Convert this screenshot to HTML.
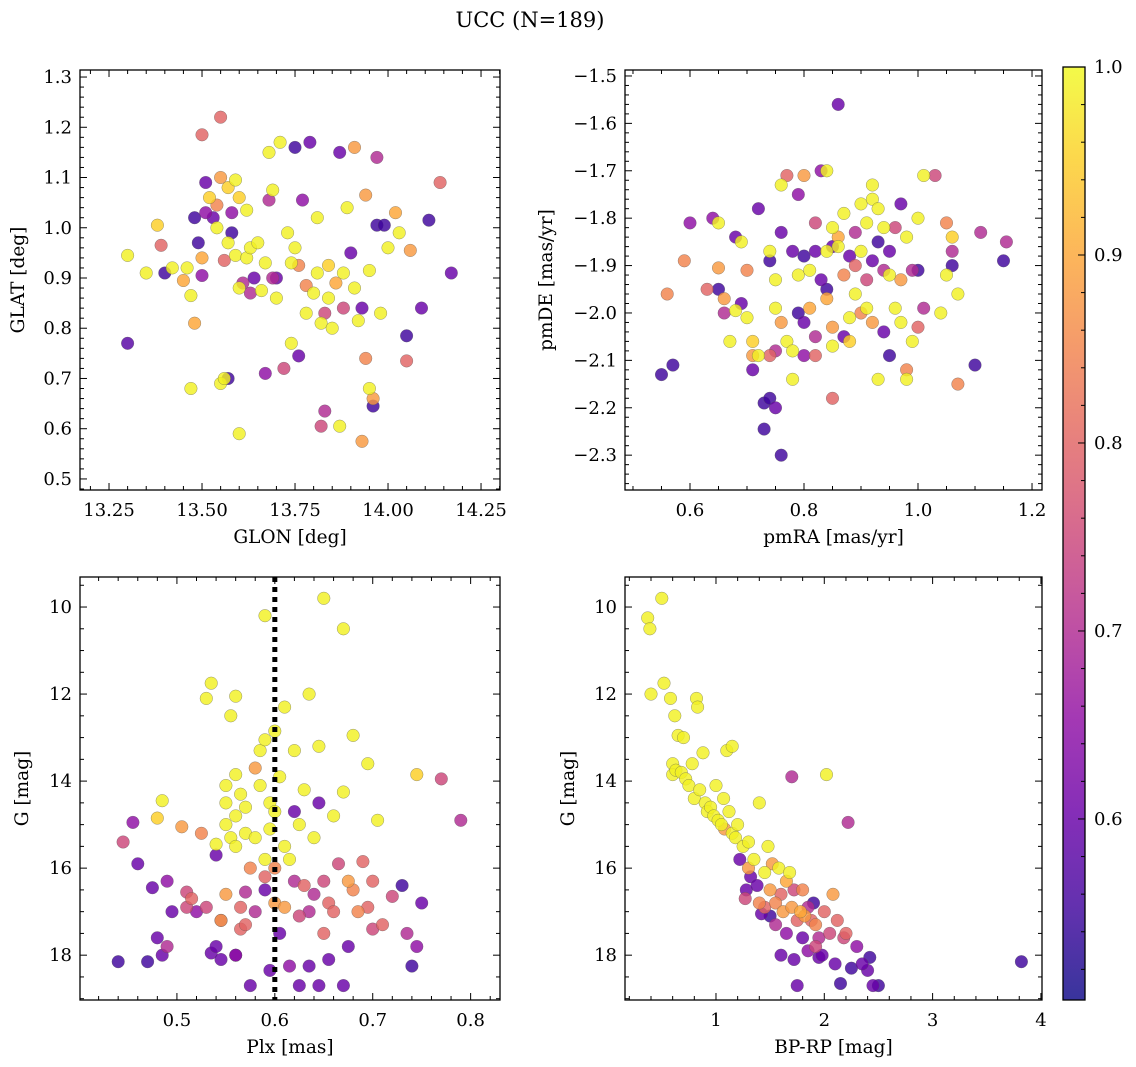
<!DOCTYPE html>
<html><head><meta charset="utf-8"><title>UCC (N=189)</title>
<style>
html,body{margin:0;padding:0;background:#fff;}
svg{display:block;font-family:"DejaVu Serif","Liberation Serif",serif;}
</style></head>
<body>
<svg id="fig" width="1136" height="1067" viewBox="0 0 1136 1067" xmlns="http://www.w3.org/2000/svg">
<defs>
<linearGradient id="plasma" x1="0" y1="1" x2="0" y2="0"></linearGradient>
</defs>
<text x="530" y="27" font-size="21" text-anchor="middle">UCC (N=189)</text>
</svg>
<script>
// ---------- data ----------
const glonVals=[13.30,13.30,13.35,13.38,13.39,13.40,13.42,13.45,13.46,13.47,13.47,13.48,13.48,13.49,13.50,13.50,13.50,13.51,13.51,13.52,13.53,13.54,13.54,13.55,13.55,13.55,13.56,13.56,13.57,13.57,13.57,13.58,13.58,13.59,13.59,13.60,13.60,13.60,13.61,13.62,13.62,13.63,13.63,13.64,13.65,13.66,13.67,13.67,13.68,13.68,13.69,13.69,13.70,13.70,13.71,13.72,13.73,13.74,13.74,13.75,13.75,13.76,13.76,13.77,13.78,13.78,13.79,13.80,13.81,13.81,13.82,13.82,13.83,13.83,13.84,13.84,13.85,13.86,13.87,13.87,13.88,13.88,13.89,13.90,13.91,13.91,13.92,13.93,13.93,13.94,13.94,13.95,13.95,13.96,13.96,13.97,13.97,13.98,13.99,14.00,14.02,14.03,14.05,14.05,14.06,14.09,14.11,14.14,14.17];
const glatVals=[0.77,0.945,0.91,1.005,0.965,0.91,0.92,0.895,0.92,0.865,0.68,0.81,1.02,0.97,1.185,0.905,0.94,1.09,1.03,1.06,1.02,1.045,1.00,1.22,1.10,0.69,0.70,0.935,1.08,0.97,0.70,0.99,1.03,1.095,0.945,0.88,1.06,0.59,0.89,0.94,1.035,0.87,0.96,0.90,0.97,0.875,0.93,0.71,1.055,1.15,0.90,1.075,0.86,0.90,1.17,0.72,0.99,0.93,0.77,1.16,0.96,0.925,0.745,1.055,0.885,0.83,1.17,0.87,1.02,0.91,0.81,0.605,0.635,0.83,0.86,0.925,0.80,0.89,1.15,0.605,0.91,0.84,1.04,0.95,1.16,0.88,0.815,0.84,0.575,1.065,0.74,0.68,0.915,0.66,0.645,1.005,1.14,0.83,1.005,0.96,1.03,0.99,0.735,0.785,0.955,0.84,1.015,1.09,0.91];
const glatProb=[0.58,0.99,0.99,0.95,0.8,0.55,0.99,0.9,0.99,0.99,0.99,0.9,0.55,0.55,0.8,0.65,0.9,0.6,0.65,0.95,0.6,0.85,0.99,0.8,0.88,0.99,0.99,0.8,0.95,0.99,0.55,0.55,0.65,0.99,0.99,0.99,0.95,0.99,0.7,0.99,0.99,0.7,0.99,0.6,0.99,0.99,0.99,0.65,0.7,0.99,0.7,0.99,0.99,0.6,0.99,0.75,0.99,0.99,0.99,0.55,0.99,0.85,0.6,0.65,0.85,0.99,0.6,0.99,0.99,0.99,0.99,0.75,0.7,0.75,0.99,0.95,0.99,0.9,0.6,0.99,0.99,0.75,0.99,0.6,0.88,0.99,0.99,0.6,0.88,0.88,0.85,0.99,0.99,0.88,0.55,0.55,0.7,0.99,0.55,0.99,0.9,0.99,0.8,0.55,0.88,0.6,0.55,0.8,0.6];

const pmraVals=[0.55,0.56,0.57,0.59,0.60,0.63,0.64,0.65,0.65,0.65,0.66,0.66,0.67,0.68,0.68,0.69,0.69,0.70,0.70,0.71,0.71,0.71,0.72,0.72,0.73,0.73,0.74,0.74,0.74,0.74,0.75,0.75,0.75,0.75,0.76,0.76,0.76,0.76,0.77,0.77,0.78,0.78,0.78,0.79,0.79,0.79,0.80,0.80,0.80,0.80,0.81,0.81,0.82,0.82,0.82,0.82,0.83,0.83,0.84,0.84,0.84,0.84,0.85,0.85,0.85,0.85,0.85,0.86,0.86,0.86,0.87,0.87,0.87,0.88,0.88,0.88,0.89,0.89,0.89,0.90,0.90,0.90,0.91,0.91,0.91,0.92,0.92,0.92,0.92,0.93,0.93,0.93,0.94,0.94,0.94,0.95,0.95,0.95,0.96,0.96,0.97,0.97,0.97,0.98,0.98,0.98,0.99,0.99,1.00,1.00,1.00,1.01,1.01,1.03,1.04,1.05,1.05,1.06,1.06,1.06,1.07,1.07,1.10,1.11,1.15,1.155];
const pmdeVals=[-2.13,-1.96,-2.11,-1.89,-1.81,-1.95,-1.80,-1.95,-1.905,-1.81,-2.00,-1.97,-2.06,-1.84,-1.995,-1.85,-1.98,-2.01,-1.91,-2.09,-2.06,-2.12,-1.78,-2.09,-2.19,-2.245,-2.18,-1.87,-1.89,-2.09,-2.08,-2.20,-1.93,-1.99,-1.73,-1.83,-2.02,-2.30,-1.71,-2.06,-1.87,-2.14,-2.08,-1.92,-1.75,-2.00,-1.71,-1.88,-2.02,-2.09,-1.91,-1.99,-2.05,-1.81,-1.87,-2.09,-1.70,-1.93,-1.87,-1.95,-1.97,-1.70,-1.86,-2.03,-1.82,-2.18,-2.07,-1.56,-1.84,-1.86,-1.92,-1.79,-2.05,-1.88,-2.01,-2.06,-1.83,-1.90,-1.96,-1.77,-1.87,-2.00,-1.93,-1.81,-1.99,-1.76,-2.02,-1.89,-1.73,-1.85,-1.78,-2.14,-1.91,-2.04,-1.82,-1.92,-2.09,-1.87,-1.82,-1.99,-1.77,-1.93,-2.02,-1.84,-2.12,-2.14,-1.91,-2.06,-1.80,-2.03,-1.91,-1.71,-1.99,-1.71,-2.00,-1.81,-1.92,-1.84,-1.90,-1.87,-1.96,-2.15,-2.11,-1.83,-1.89,-1.85];
const pmProb=[0.55,0.85,0.55,0.85,0.65,0.8,0.65,0.55,0.88,0.99,0.7,0.88,0.99,0.6,0.99,0.99,0.6,0.99,0.85,0.88,0.95,0.6,0.6,0.99,0.55,0.55,0.55,0.99,0.55,0.8,0.7,0.6,0.99,0.99,0.99,0.6,0.88,0.55,0.8,0.99,0.6,0.99,0.99,0.99,0.65,0.55,0.88,0.55,0.6,0.65,0.99,0.9,0.7,0.75,0.6,0.8,0.65,0.6,0.99,0.55,0.9,0.99,0.6,0.88,0.99,0.8,0.99,0.6,0.9,0.99,0.85,0.99,0.6,0.6,0.99,0.95,0.7,0.8,0.99,0.99,0.99,0.85,0.75,0.99,0.99,0.99,0.88,0.6,0.99,0.55,0.99,0.99,0.7,0.6,0.99,0.99,0.55,0.6,0.75,0.99,0.6,0.88,0.99,0.99,0.85,0.99,0.7,0.99,0.99,0.8,0.55,0.99,0.7,0.75,0.99,0.85,0.99,0.95,0.55,0.7,0.99,0.85,0.55,0.7,0.55,0.7];

const plxVals=[0.44,0.445,0.455,0.46,0.47,0.475,0.48,0.48,0.485,0.485,0.49,0.49,0.495,0.505,0.51,0.51,0.515,0.52,0.525,0.53,0.53,0.535,0.535,0.54,0.54,0.54,0.545,0.545,0.545,0.55,0.55,0.55,0.55,0.555,0.555,0.56,0.56,0.56,0.56,0.56,0.56,0.565,0.565,0.565,0.57,0.57,0.57,0.57,0.575,0.575,0.58,0.58,0.58,0.585,0.585,0.59,0.59,0.59,0.59,0.59,0.595,0.595,0.595,0.6,0.6,0.6,0.6,0.605,0.605,0.61,0.61,0.61,0.615,0.615,0.62,0.62,0.62,0.625,0.625,0.625,0.63,0.63,0.635,0.635,0.635,0.64,0.64,0.645,0.645,0.645,0.65,0.65,0.65,0.655,0.655,0.66,0.66,0.665,0.67,0.67,0.67,0.675,0.675,0.68,0.68,0.685,0.69,0.695,0.695,0.7,0.7,0.705,0.71,0.72,0.73,0.735,0.74,0.745,0.745,0.75,0.77,0.79];
const gPlxVals=[18.15,15.4,14.95,15.9,18.15,16.45,17.6,14.85,14.45,18.0,17.8,16.3,17.0,15.05,16.55,16.9,16.7,17.0,15.2,16.9,12.1,11.75,17.95,17.8,15.7,15.45,18.1,17.2,17.2,14.1,14.5,16.6,15.0,12.5,15.3,12.05,13.85,14.8,15.5,18.0,18.0,17.4,16.9,14.3,16.55,17.3,15.2,14.6,18.7,16.0,17.0,15.3,13.7,13.3,14.1,10.2,13.05,15.8,16.5,16.2,18.35,14.5,15.1,12.85,16.0,16.8,14.7,13.9,17.5,12.3,15.5,16.9,18.25,15.8,13.3,16.3,14.7,18.7,17.1,15.0,14.2,16.4,12.0,17.0,18.25,15.3,16.6,14.5,13.2,18.7,9.8,17.5,16.3,18.1,16.8,17.0,14.8,15.9,10.5,14.25,18.7,17.8,16.3,12.95,16.5,17.0,15.85,13.6,16.9,17.4,16.3,14.9,17.3,16.65,16.4,17.5,18.25,13.85,17.8,16.8,13.95,14.9];
const plxProb=[0.55,0.75,0.65,0.6,0.55,0.6,0.6,0.95,0.99,0.6,0.7,0.65,0.6,0.88,0.75,0.75,0.8,0.65,0.85,0.75,0.99,0.99,0.6,0.6,0.6,0.99,0.6,0.7,0.88,0.99,0.99,0.88,0.99,0.99,0.99,0.99,0.99,0.99,0.99,0.6,0.65,0.8,0.8,0.99,0.7,0.8,0.99,0.99,0.6,0.85,0.7,0.99,0.88,0.99,0.99,0.99,0.99,0.99,0.6,0.8,0.6,0.99,0.99,0.99,0.85,0.88,0.99,0.99,0.6,0.99,0.99,0.88,0.65,0.99,0.99,0.7,0.6,0.6,0.75,0.99,0.99,0.8,0.99,0.7,0.6,0.99,0.7,0.6,0.99,0.6,0.99,0.8,0.75,0.6,0.8,0.8,0.99,0.75,0.99,0.99,0.6,0.6,0.88,0.99,0.85,0.85,0.8,0.99,0.8,0.75,0.8,0.99,0.8,0.75,0.55,0.7,0.55,0.95,0.65,0.6,0.75,0.7];

const bprpVals=[0.37,0.39,0.4,0.5,0.52,0.58,0.6,0.62,0.6,0.63,0.65,0.68,0.7,0.72,0.75,0.78,0.8,0.82,0.83,0.85,0.88,0.9,0.92,0.95,0.98,1.0,1.02,1.05,1.07,1.08,1.1,1.12,1.15,1.15,1.18,1.2,1.22,1.25,1.27,1.28,1.3,1.3,1.32,1.35,1.38,1.4,1.4,1.42,1.45,1.45,1.48,1.5,1.5,1.52,1.55,1.55,1.58,1.6,1.6,1.62,1.65,1.65,1.68,1.7,1.7,1.72,1.72,1.75,1.75,1.78,1.8,1.8,1.82,1.85,1.85,1.88,1.9,1.92,1.95,1.95,2.0,2.02,2.05,2.08,2.1,2.12,2.15,2.18,2.22,2.25,2.3,2.4,2.42,2.45,2.5,2.35,2.2,1.92,1.98,3.82];
const gCmdVals=[10.25,10.5,12.0,9.8,11.75,12.1,13.6,12.5,13.85,13.75,12.95,13.8,13.0,13.95,14.1,13.6,14.4,12.1,12.3,14.2,13.35,14.5,14.7,14.6,14.8,14.1,14.9,15.0,14.4,15.1,13.3,14.7,13.2,15.2,15.3,15.0,15.8,15.5,16.7,16.5,16.0,15.4,16.2,15.8,16.4,14.5,16.8,17.05,16.1,16.9,15.5,16.5,17.1,15.9,16.8,17.3,16.0,16.6,18.0,17.0,16.3,17.5,16.1,16.9,13.9,16.5,18.1,17.2,18.7,17.0,16.5,17.6,17.1,16.9,17.9,17.2,16.8,17.3,18.05,17.6,17.0,13.85,17.5,16.6,18.2,17.2,18.65,17.6,14.95,18.3,17.8,18.35,18.05,18.7,18.7,18.2,17.5,17.8,18.0,18.15];
const cmdProb=[0.99,0.99,0.99,0.99,0.99,0.99,0.99,0.99,0.99,0.99,0.99,0.99,0.99,0.99,0.99,0.99,0.99,0.99,0.99,0.99,0.99,0.99,0.99,0.99,0.99,0.99,0.99,0.99,0.99,0.88,0.99,0.99,0.99,0.99,0.99,0.99,0.6,0.99,0.75,0.6,0.88,0.99,0.6,0.99,0.6,0.99,0.85,0.6,0.99,0.8,0.99,0.88,0.55,0.88,0.85,0.7,0.99,0.8,0.6,0.88,0.9,0.65,0.99,0.88,0.7,0.75,0.6,0.8,0.6,0.9,0.85,0.6,0.88,0.7,0.65,0.8,0.55,0.85,0.6,0.7,0.8,0.99,0.75,0.88,0.6,0.8,0.55,0.75,0.7,0.55,0.65,0.6,0.55,0.6,0.55,0.6,0.8,0.75,0.6,0.55];

const cbTicks=[0.6,0.7,0.8,0.9,1.0];
const cbLabels=["0.6","0.7","0.8","0.9","1.0"];
const P1xTicks=[13.25,13.5,13.75,14.0,14.25], P1xLab=["13.25","13.50","13.75","14.00","14.25"];
const P1yTicks=[0.5,0.6,0.7,0.8,0.9,1.0,1.1,1.2,1.3], P1yLab=["0.5","0.6","0.7","0.8","0.9","1.0","1.1","1.2","1.3"];
const P2xTicks=[0.6,0.8,1.0,1.2], P2xLab=["0.6","0.8","1.0","1.2"];
const P2yTicks=[-1.5,-1.6,-1.7,-1.8,-1.9,-2.0,-2.1,-2.2,-2.3], P2yLab=["\u22121.5","\u22121.6","\u22121.7","\u22121.8","\u22121.9","\u22122.0","\u22122.1","\u22122.2","\u22122.3"];
const P3xTicks=[0.5,0.6,0.7,0.8], P3xLab=["0.5","0.6","0.7","0.8"];
const GTicks=[10,12,14,16,18], GLab=["10","12","14","16","18"];
const P4xTicks=[1,2,3,4], P4xLab=["1","2","3","4"];
const plxRef=0.6;

// ---------- helpers ----------
const NS="http://www.w3.org/2000/svg";
const svg=document.getElementById('fig');
function mk(tag,attrs,parent){const e=document.createElementNS(NS,tag);for(const k in attrs)e.setAttribute(k,attrs[k]);(parent||svg).appendChild(e);return e;}
const PL=[[13,8,135],[65,4,157],[106,0,168],[143,13,164],[177,42,144],[204,71,120],[225,100,98],[242,132,75],[252,166,54],[252,206,37],[240,249,33]];
const VMIN=0.5037,VMAX=1.0;
function plasma(t){t=Math.max(0,Math.min(1,t));const f=t*10,i=Math.min(9,Math.floor(f)),r=f-i;const a=PL[i],b=PL[i+1];return 'rgb('+[0,1,2].map(k=>Math.round(a[k]+(b[k]-a[k])*r)).join(',')+')';}
function cmap(p){return plasma((p-VMIN)/(VMAX-VMIN));}
const TS=18, LS=18.5;

function panel(o){
  const g=mk('g',{});
  
  
  const sx=v=>o.x0+(v-o.xmin)/(o.xmax-o.xmin)*(o.x1-o.x0);
  const sy=v=>o.yinv? o.y0+(v-o.ymin)/(o.ymax-o.ymin)*(o.y1-o.y0) : o.y1-(v-o.ymin)/(o.ymax-o.ymin)*(o.y1-o.y0);
  const pg=mk('g',{},g);
  
  
  const idx=o.xs.map((_,i)=>i).sort((a,b)=>o.ps[a]-o.ps[b]);
  idx.forEach(i=>{
    const c=mk('circle',{cx:sx(o.xs[i]).toFixed(1),cy:sy(o.ys[i]).toFixed(1),r:6.3,fill:cmap(o.ps[i]),'fill-opacity':0.82,stroke:'#555','stroke-width':0.5,'stroke-opacity':0.6},pg);
    
    
  });
  if(o.extra) o.extra(g,sx,sy);
  const tk=mk('g',{stroke:'#000','stroke-width':1},g);
  const eps=1e-9;
  for(let v=Math.ceil(o.xmin/o.xminor-eps)*o.xminor; v<=o.xmax+eps; v+=o.xminor){
    const X=sx(v); const maj=o.xt.some(t=>Math.abs(t-v)<o.xminor/3); const L=maj?7:4;
    mk('line',{x1:X,x2:X,y1:o.y1,y2:o.y1-L},tk); mk('line',{x1:X,x2:X,y1:o.y0,y2:o.y0+L},tk);
  }
  for(let v=Math.ceil(o.ymin/o.yminor-eps)*o.yminor; v<=o.ymax+eps; v+=o.yminor){
    const Y=sy(v); const maj=o.yt.some(t=>Math.abs(t-v)<o.yminor/3); const L=maj?7:4;
    mk('line',{y1:Y,y2:Y,x1:o.x0,x2:o.x0+L},tk); mk('line',{y1:Y,y2:Y,x1:o.x1,x2:o.x1-L},tk);
  }
  const fr=mk('rect',{x:o.x0,y:o.y0,width:o.x1-o.x0,height:o.y1-o.y0,fill:'none',stroke:'#000','stroke-width':1.3},g);
  
  
  o.xt.forEach((t,i)=>{const e=mk('text',{x:sx(t),y:o.y1+26,'font-size':TS,'text-anchor':'middle'},g);e.textContent=o.xl[i];
    
    });
  o.yt.forEach((t,i)=>{const e=mk('text',{x:o.x0-8,y:sy(t)+6,'font-size':TS,'text-anchor':'end'},g);e.textContent=o.yl[i];
    
    });
  const xt=mk('text',{x:(o.x0+o.x1)/2,y:o.y1+53,'font-size':LS,'text-anchor':'middle'},g);xt.textContent=o.xlabel;
  
  
  const yx=o.ylx, yy=(o.y0+o.y1)/2;
  const yt=mk('text',{x:yx,y:yy,'font-size':LS,'text-anchor':'middle',transform:'rotate(-90 '+yx+' '+yy+')'},g);yt.textContent=o.ylabel;
  
  
}

panel({name:'glon-glat-panel',x0:80,x1:500,y0:70,y1:490,xmin:13.172,xmax:14.301,ymin:0.478,ymax:1.314,
  xs:glonVals,ys:glatVals,ps:glatProb,xt:P1xTicks,xl:P1xLab,yt:P1yTicks,yl:P1yLab,xminor:0.05,yminor:0.02,
  xlabel:'GLON [deg]',ylabel:'GLAT [deg]',ylx:24});
panel({name:'pm-panel',x0:625,x1:1042,y0:70,y1:490,xmin:0.486,xmax:1.2175,ymin:-2.3735,ymax:-1.4874,
  xs:pmraVals,ys:pmdeVals,ps:pmProb,xt:P2xTicks,xl:P2xLab,yt:P2yTicks,yl:P2yLab,xminor:0.05,yminor:0.02,
  xlabel:'pmRA [mas/yr]',ylabel:'pmDE [mas/yr]',ylx:552});
panel({name:'plx-g-panel',x0:80,x1:500,y0:577,y1:1000,xmin:0.401,xmax:0.83,ymin:9.31,ymax:19.03,yinv:true,
  xs:plxVals,ys:gPlxVals,ps:plxProb,xt:P3xTicks,xl:P3xLab,yt:GTicks,yl:GLab,xminor:0.02,yminor:0.5,
  xlabel:'Plx [mas]',ylabel:'G [mag]',ylx:28,
  extra:(g,sx,sy)=>{const l=mk('line',{x1:sx(plxRef),x2:sx(plxRef),y1:577,y2:1000,stroke:'#000','stroke-width':5,'stroke-dasharray':'5 5'},g);
    
    }});
panel({name:'cmd-panel',x0:625,x1:1042,y0:577,y1:1000,xmin:0.16,xmax:4.01,ymin:9.31,ymax:19.03,yinv:true,
  xs:bprpVals,ys:gCmdVals,ps:cmdProb,xt:P4xTicks,xl:P4xLab,yt:GTicks,yl:GLab,xminor:0.2,yminor:0.5,
  xlabel:'BP-RP [mag]',ylabel:'G [mag]',ylx:574});

(function(){
  const grad=document.getElementById('plasma');
  for(let k=0;k<=20;k++){mk('stop',{offset:(k/20),'stop-color':plasma(k/20),'stop-opacity':0.82},grad);}
  const x0=1063,x1=1085,y0=67,y1=1000;
  const cy=v=>y1-(v-VMIN)/(VMAX-VMIN)*(y1-y0);
  const g=mk('g',{});
  
  
  mk('rect',{x:x0,y:y0,width:x1-x0,height:y1-y0,fill:'url(#plasma)'},g);
  for(let v=0.52;v<=1.0001;v+=0.02){const Y=cy(v);const maj=cbTicks.some(t=>Math.abs(t-v)<0.005);mk('line',{x1:x1,x2:x1-(maj?7:4),y1:Y,y2:Y,stroke:'#000','stroke-width':1},g);}
  mk('rect',{x:x0,y:y0,width:x1-x0,height:y1-y0,fill:'none',stroke:'#000','stroke-width':1.3},g);
  cbTicks.forEach((t,i)=>{const e=mk('text',{x:x1+9,y:cy(t)+6,'font-size':TS},g);e.textContent=cbLabels[i];
    
    });
})();
</script>
</body></html>
